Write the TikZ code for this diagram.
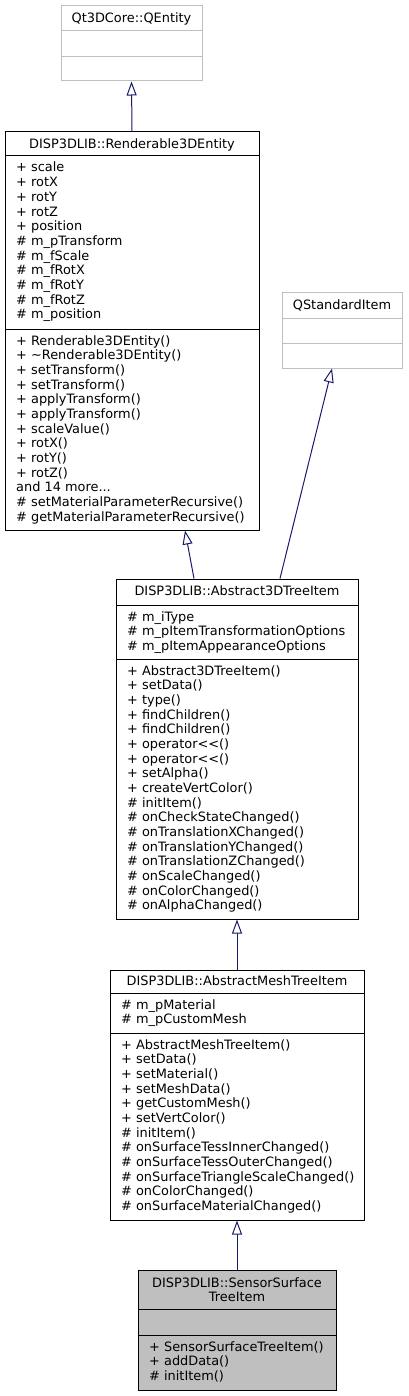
\documentclass[tikz,border=0pt]{standalone}
\usepackage{fontspec}
\newfontfamily\umlfont{DejaVu Sans}
\usetikzlibrary{arrows.meta}
\definecolor{edgeblue}{HTML}{191970}
\definecolor{extgray}{HTML}{BFBFBF}
\definecolor{leafgray}{HTML}{BFBFBF}

\begin{document}
\begin{tikzpicture}[
        x=1pt, y=-1pt,
        cls/.style={draw=black, line width=1pt, inner sep=0pt},
        ext/.style={draw=extgray, line width=1pt, inner sep=0pt},
        mem/.style={anchor=base west, inner sep=0pt, font=\umlfont\fontsize{12.9}{14.67}\selectfont},
        ttl/.style={anchor=base, inner sep=0pt, font=\umlfont\fontsize{12.9}{14.67}\selectfont},
        inh/.style={draw=edgeblue, line width=1pt, -{Triangle[open, length=14pt, width=10pt]}}
    ]
        \useasboundingbox (0,0) rectangle (408,1396);

        % class boxes
        \node[ext, minimum width=141pt, minimum height=75pt] (qent) at (131.5,43.5) {};
        \node[cls, minimum width=254pt, minimum height=398pt] (rend) at (132,331) {};
        \node[ext, minimum width=120pt, minimum height=75pt] (qstd) at (342,330.5) {};
        \node[cls, minimum width=242pt, minimum height=340pt] (a3d) at (237,749) {};
        \node[cls, minimum width=254pt, minimum height=250pt] (mesh) at (237,1095) {};
        \node[cls, fill=leafgray, minimum width=198pt, minimum height=120pt] (sen) at (237,1330) {};

        % compartments
        \draw[extgray, line width=1pt] (61,31) -- (202,31);
        \draw[extgray, line width=1pt] (61,57) -- (202,57);
        \draw[extgray, line width=1pt] (282,318) -- (402,318);
        \draw[extgray, line width=1pt] (282,343) -- (402,343);
        \draw[line width=1pt] (5,156) -- (259,156);
        \draw[line width=1pt] (5,329) -- (259,329);
        \draw[line width=1pt] (116,605) -- (358,605);
        \draw[line width=1pt] (116,659) -- (358,659);
        \draw[line width=1pt] (110,993) -- (364,993);
        \draw[line width=1pt] (110,1033) -- (364,1033);
        \draw[line width=1pt] (138,1309) -- (336,1309);
        \draw[line width=1pt] (138,1335) -- (336,1335);

        % titles
        \node[ttl] (qent-t) at (131.5,23) {Qt3DCore::QEntity};
        \node[ttl] (qstd-t) at (342,309.6) {QStandardItem};
        \node[ttl] (rend-t) at (132,148.6) {DISP3DLIB::Renderable3DEntity};
        \node[ttl] (a3d-t) at (237,595.6) {DISP3DLIB::Abstract3DTreeItem};
        \node[ttl] (mesh-t) at (237,985.6) {DISP3DLIB::AbstractMeshTreeItem};
        \node[ttl] (sen-t) at (237,1287.3) {DISP3DLIB::SensorSurface};
        \node[ttl] (sen-u) at (237,1301.3) {TreeItem};

        % members
        \foreach \t [count=\i from 0] in {+ scale, + rotX, + rotY, + rotZ, + position,
            \# m\_pTransform, \# m\_fScale, \# m\_fRotX, \# m\_fRotY, \# m\_fRotZ, \# m\_position}{
            \node[mem] (ra\i) at (16,{172+\i*14.67}) {\t};
        }
        \foreach \t [count=\i from 0] in {+ Renderable3DEntity(), + \textasciitilde Renderable3DEntity(),
            + setTransform(), + setTransform(), + applyTransform(), + applyTransform(), + scaleValue(),
            + rotX(), + rotY(), + rotZ(), {and 14 more.{}..}, \# setMaterialParameterRecursive(),
            \# getMaterialParameterRecursive()}{
            \node[mem] (rm\i) at (16,{345+\i*14.67}) {\t};
        }
        \foreach \t [count=\i from 0] in {\# m\_iType, \# m\_pItemTransformationOptions,
            \# m\_pItemAppearanceOptions}{
            \node[mem] (aa\i) at (127,{621+\i*14.67}) {\t};
        }
        \foreach \t [count=\i from 0] in {+ Abstract3DTreeItem(), + setData(), + type(),
            + findChildren(), + findChildren(), + operator<<(), + operator<<(), + setAlpha(),
            + createVertColor(), \# initItem(), \# onCheckStateChanged(), \# onTranslationXChanged(),
            \# onTranslationYChanged(), \# onTranslationZChanged(), \# onScaleChanged(),
            \# onColorChanged(), \# onAlphaChanged()}{
            \node[mem] (am\i) at (127,{675+\i*14.67}) {\t};
        }
        \foreach \t [count=\i from 0] in {\# m\_pMaterial, \# m\_pCustomMesh}{
            \node[mem] (ma\i) at (121,{1009+\i*14.67}) {\t};
        }
        \foreach \t [count=\i from 0] in {+ AbstractMeshTreeItem(), + setData(), + setMaterial(),
            + setMeshData(), + getCustomMesh(), + setVertColor(), \# initItem(),
            \# onSurfaceTessInnerChanged(), \# onSurfaceTessOuterChanged(),
            \# onSurfaceTriangleScaleChanged(), \# onColorChanged(), \# onSurfaceMaterialChanged()}{
            \node[mem] (mm\i) at (121,{1049+\i*14.67}) {\t};
        }
        \foreach \t [count=\i from 0] in {+ SensorSurfaceTreeItem(), + addData(), \# initItem()}{
            \node[mem] (sm\i) at (149,{1351+\i*14.67}) {\t};
        }

        % inheritance
        \draw[inh] (rend.north) -- (qent.south);
        \draw[inh] ([xshift=-43pt]a3d.north) -- ([xshift=53pt]rend.south);
        \draw[inh] ([xshift=43pt]a3d.north) -- ([xshift=-10pt]qstd.south);
        \draw[inh] (mesh.north) -- (a3d.south);
        \draw[inh] (sen.north) -- (mesh.south);
    \end{tikzpicture}
\end{document}
